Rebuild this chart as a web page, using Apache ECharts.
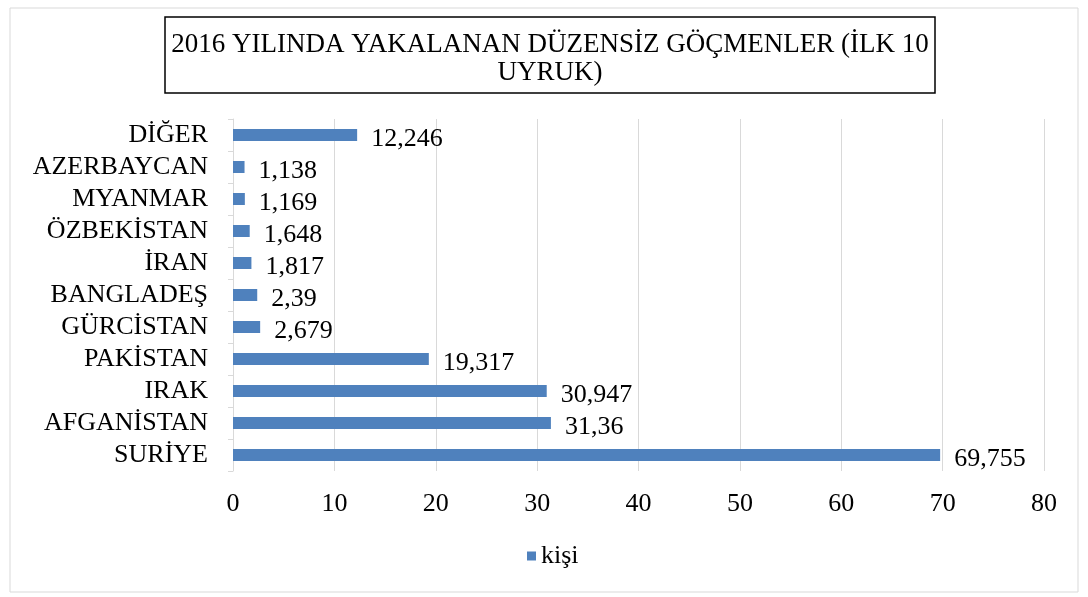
<!DOCTYPE html>
<html><head><meta charset="utf-8">
<script src="https://cdn.jsdelivr.net/npm/echarts@6/dist/echarts.min.js"></script>
<style>html,body{margin:0;padding:0;background:#fff}#c{width:1088px;height:597px}</style>
</head><body><div id="c"></div>
<script>
const categories = ['SURİYE','AFGANİSTAN','IRAK','PAKİSTAN','GÜRCİSTAN','BANGLADEŞ','İRAN','ÖZBEKİSTAN','MYANMAR','AZERBAYCAN','DİĞER'];
const values = [69.755, 31.36, 30.947, 19.317, 2.679, 2.39, 1.817, 1.648, 1.169, 1.138, 12.246];
const seriesName = 'kişi';
const titleText = '2016 YILINDA YAKALANAN DÜZENSİZ GÖÇMENLER (İLK 10\nUYRUK)';
const xTicks = [0,10,20,30,40,50,60,70,80];

const font = 'Liberation Serif, Times New Roman, serif';
const chart = echarts.init(document.getElementById('c'), null, {renderer:'canvas'});
chart.setOption({
  animation:false,
  textStyle:{fontFamily:font},
  graphic:[
    {type:'rect', shape:{x:10,y:8,width:1068,height:584}, style:{fill:'none', stroke:'#d9d9d9', lineWidth:1}, silent:true, z:-1},
    {type:'rect', shape:{x:165,y:17,width:770,height:76}, style:{fill:'none', stroke:'#000', lineWidth:1.5}, silent:true, z:-1}
  ],
  title:{
    text:titleText, left:550, top:31, padding:0, textAlign:'center',
    textStyle:{fontFamily:font, fontWeight:'normal', fontSize:27, color:'#000', lineHeight:28}
  },
  legend:{
    data:[seriesName], left:527, top:543, padding:0, icon:'rect', itemWidth:9, itemHeight:9, itemGap:5,
    textStyle:{fontFamily:font, fontSize:26, color:'#000'}
  },
  grid:{left:233, right:44, top:119, bottom:126},
  xAxis:{
    type:'value', min:xTicks[0], max:xTicks[xTicks.length-1], interval:10,
    axisLine:{show:false}, axisTick:{show:false},
    splitLine:{lineStyle:{color:'#d9d9d9', width:1}},
    axisLabel:{fontFamily:font, fontSize:26, color:'#000', margin:20}
  },
  yAxis:{
    type:'category', data:categories,
    axisLine:{lineStyle:{color:'#d9d9d9'}},
    axisTick:{show:true, length:5, interval:0, lineStyle:{color:'#d9d9d9'}},
    axisLabel:{fontFamily:font, fontSize:26, color:'#000', margin:25, interval:0}
  },
  series:[{
    name:seriesName, type:'bar', data:values, barWidth:12,
    itemStyle:{color:'#4f81bd'},
    label:{show:true, position:'right', distance:14, offset:[0,4], fontFamily:font, fontSize:26, color:'#000',
      formatter:p=>String(p.value).replace('.',',')}
  }]
});
</script></body></html>
